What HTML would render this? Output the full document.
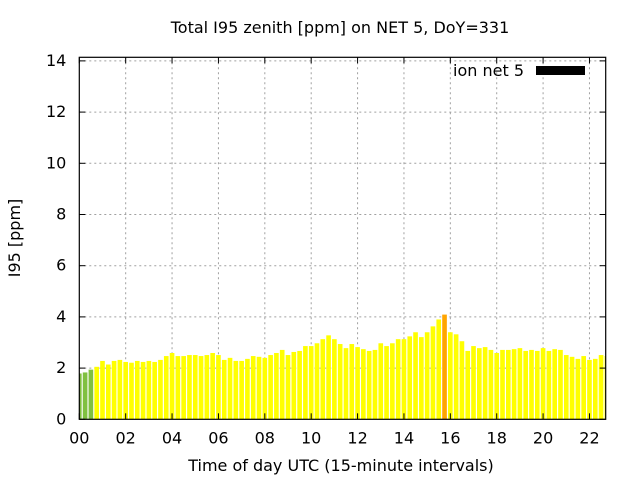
<!DOCTYPE html>
<html><head><meta charset="utf-8"><style>
html,body{margin:0;padding:0;background:#fff;}
svg{display:block;font-family:"DejaVu Sans","Liberation Sans",sans-serif;}
</style></head><body>
<svg id="chart" width="640" height="480" viewBox="0 0 640 480" xmlns="http://www.w3.org/2000/svg">
<rect x="0" y="0" width="640" height="480" fill="#fff"/>
<text x="340" y="33" text-anchor="middle" font-size="16" fill="#000">Total I95 zenith [ppm] on NET 5, DoY=331</text>
<text x="0" y="0" transform="translate(20,238) rotate(-90)" text-anchor="middle" font-size="16" fill="#000">I95 [ppm]</text>
<text x="341" y="471" text-anchor="middle" font-size="16" fill="#000">Time of day UTC (15-minute intervals)</text>
<g id="grid"></g>
<g id="bars"></g>
<g id="axes"></g>
<g>
<text x="524" y="76" text-anchor="end" font-size="16" fill="#000">ion net 5</text>
<rect x="536" y="66" width="49" height="9" fill="#000"/>
</g>
</svg>
<script>
const values = [1.79,1.83,1.94,2.05,2.28,2.14,2.28,2.32,2.24,2.21,2.28,2.24,2.28,2.24,2.32,2.47,2.59,2.47,2.47,2.51,2.51,2.47,2.51,2.59,2.51,2.32,2.40,2.28,2.28,2.36,2.47,2.44,2.40,2.51,2.59,2.71,2.51,2.63,2.67,2.86,2.86,2.97,3.13,3.28,3.13,2.94,2.78,2.94,2.82,2.74,2.67,2.71,2.97,2.86,2.97,3.13,3.13,3.24,3.40,3.21,3.40,3.63,3.90,4.09,3.40,3.32,3.05,2.67,2.86,2.78,2.82,2.71,2.59,2.71,2.71,2.74,2.78,2.67,2.71,2.67,2.78,2.67,2.74,2.71,2.51,2.44,2.36,2.47,2.32,2.36,2.51,2.47];
const categories = ["green","green","green"];
const yTicks = [0,2,4,6,8,10,12,14];
const xTicks = ["00","02","04","06","08","10","12","14","16","18","20","22"];
const xTickHours = [0,2,4,6,8,10,12,14,16,18,20,22];

const NS="http://www.w3.org/2000/svg";
const L=79.3,R=605.7,T=57.3,B=419.3;
const X0=0,X1=22.7;
const Y0=0,Y1=14.14;
const xs=h=>L+(h-X0)/(X1-X0)*(R-L);
const ys=v=>B-(v-Y0)/(Y1-Y0)*(B-T);
function mk(tag,attrs,parent){const e=document.createElementNS(NS,tag);for(const k in attrs)e.setAttribute(k,attrs[k]);parent.appendChild(e);return e;}
const grid=document.getElementById('grid'),bars=document.getElementById('bars'),axes=document.getElementById('axes');
const defs=mk('defs',{},document.getElementById('chart'));
const cp=mk('clipPath',{id:'plotclip'},defs);
mk('rect',{x:L,y:T,width:R-L,height:B-T},cp);
bars.setAttribute('clip-path','url(#plotclip)');
yTicks.forEach(v=>{
  const y=ys(v);
  if(v>0){const g=mk('line',{x1:L,x2:R,y1:y,y2:y,stroke:'#a0a0a0','stroke-width':1,'stroke-dasharray':'2,3'},grid);
  
  }
  const t=mk('text',{x:L-13,y:y+5,'text-anchor':'end','font-size':16,fill:'#000'},axes);
  t.textContent=String(v);
  
  
  mk('line',{x1:L,x2:L+6,y1:y,y2:y,stroke:'#000'},axes);
  mk('line',{x1:R,x2:R-6,y1:y,y2:y,stroke:'#000'},axes);
});
xTickHours.forEach((h,i)=>{
  const x=xs(h);
  if(h>0){const g=mk('line',{x1:x,x2:x,y1:T,y2:B,stroke:'#a0a0a0','stroke-width':1,'stroke-dasharray':'2,3'},grid);
  
  }
  const t=mk('text',{x:x,y:B+24,'text-anchor':'middle','font-size':16,fill:'#000'},axes);
  t.textContent=xTicks[i];
  
  
  mk('line',{x1:x,x2:x,y1:B,y2:B-6,stroke:'#000'},axes);
  mk('line',{x1:x,x2:x,y1:T,y2:T+6,stroke:'#000'},axes);
});
const maxV=Math.max(...values);
const bw=(xs(0.25)-xs(0))*0.8;
values.forEach((v,i)=>{
  const h=i*0.25;
  let c='#ffff00';
  if(categories[i]==='green')c='#80c040';
  if(v===maxV)c='#ffa500';
  const r=mk('rect',{x:xs(h)-bw/2,y:ys(v),width:bw,height:ys(0)-ys(v),fill:c},bars);
  
  
});
const frame=mk('rect',{x:L,y:T,width:R-L,height:B-T,fill:'none',stroke:'#000','stroke-width':1.2},axes);


</script>
</body></html>
